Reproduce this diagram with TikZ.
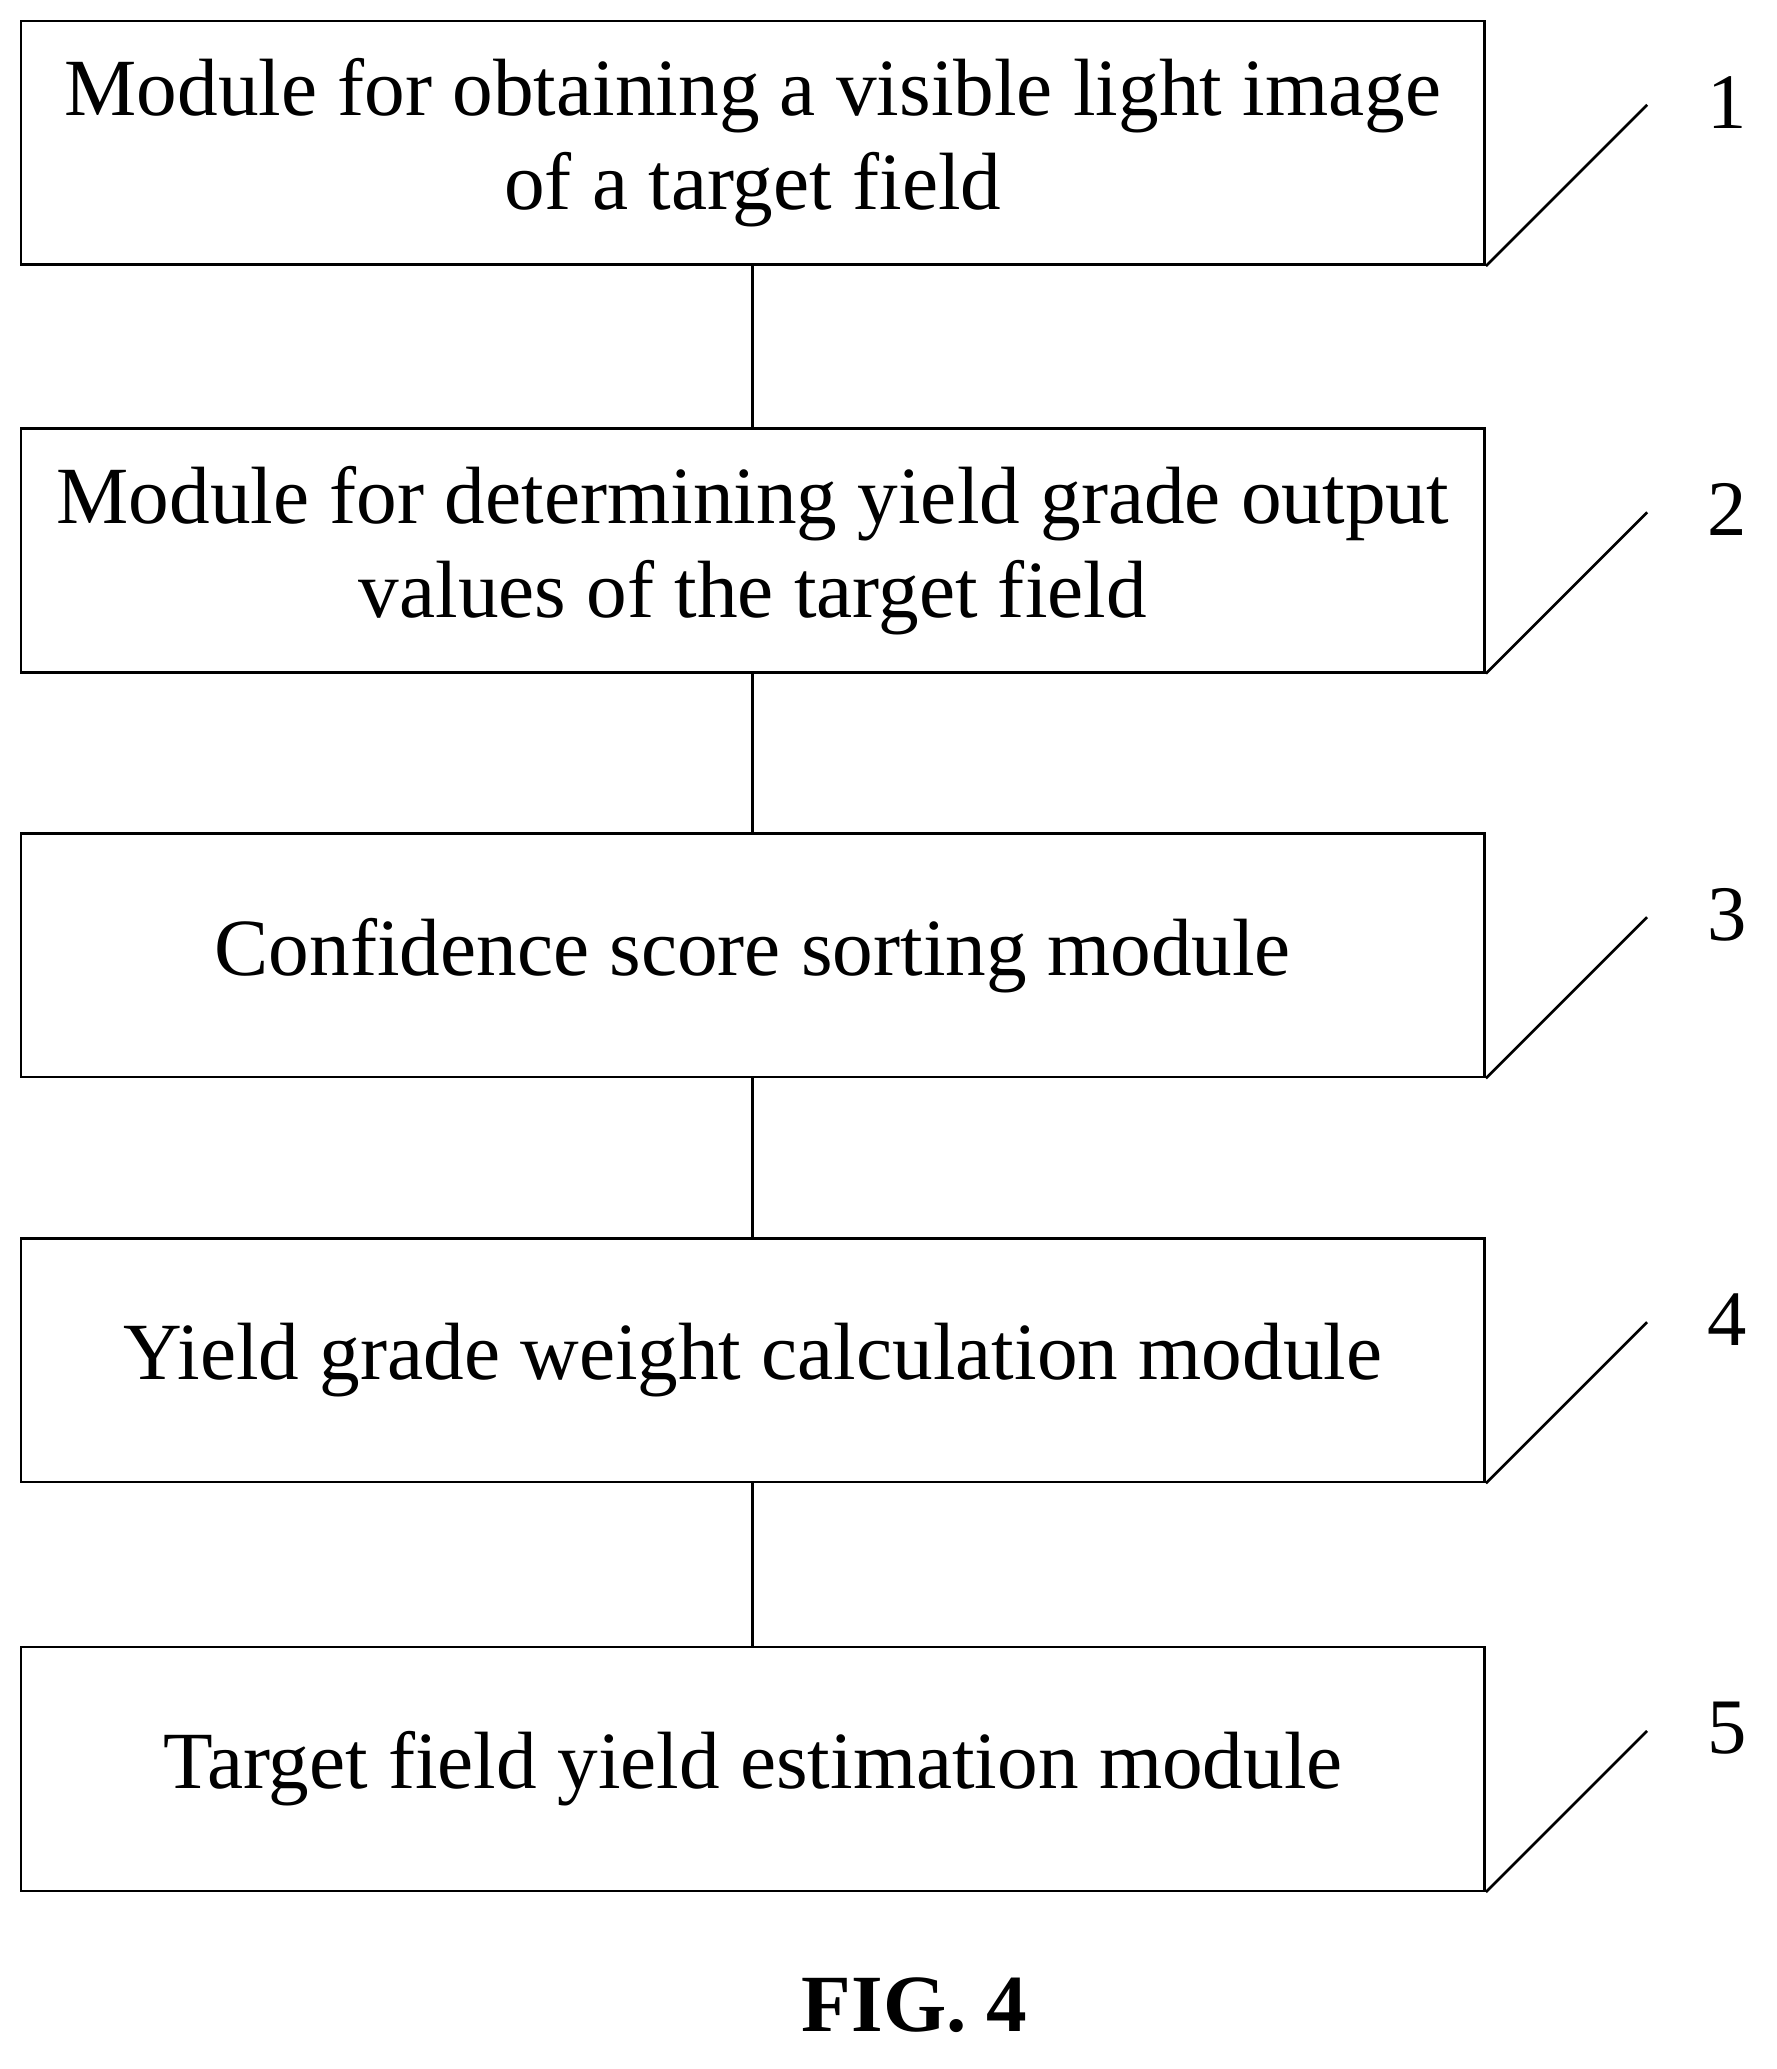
\documentclass[tikz,border=0pt]{standalone}
\usepackage{fontspec}
\setmainfont{Liberation Serif}
\begin{document}
\begin{tikzpicture}[x=0.5pt,y=-0.5pt,line width=1pt,
 box/.style={draw,minimum width=558.5pt,minimum height=93pt,align=center,inner sep=0pt,font=\fontsize{31}{36}\selectfont},
 lab/.style={font=\fontsize{30}{36}\selectfont}]
\useasboundingbox (0,0) rectangle (1356,1579);
\foreach \i/\t/\txt in {1/16/{Module for obtaining a visible light image\\of a target field},
 2/327/{Module for determining yield grade output\\values of the target field},
 3/636/{Confidence score sorting module},
 4/945/{Yield grade weight calculation module},
 5/1257/{Target field yield estimation module}}{
 \node[box] (b\i) at (574.5,\t+93) {\txt};
 \coordinate (c\i) at (1257,\t+64);
 \draw (b\i.south east) -- (c\i);
 \node[lab] (n\i) at (1318,\t+62) {\i};
}
\foreach \a/\b in {1/2,2/3,3/4,4/5} \draw (b\a.south) -- (b\b.north);
\node[font=\fontsize{31}{36}\selectfont\bfseries] (fig) at (698,1530) {FIG. 4};
\end{tikzpicture}
\end{document}
